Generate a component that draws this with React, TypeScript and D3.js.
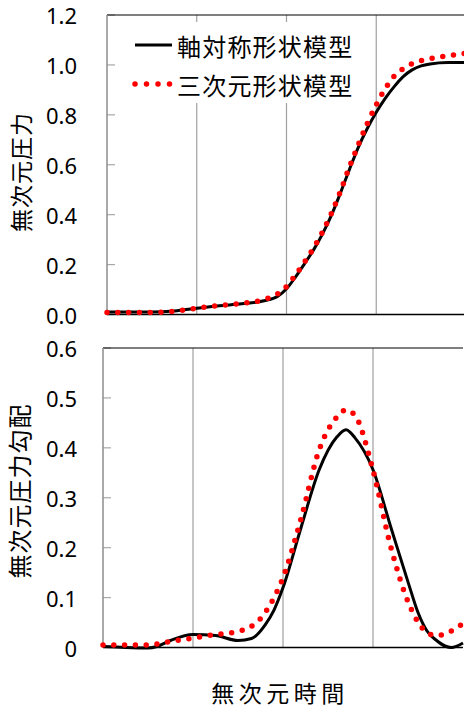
import React from 'react';
import * as d3 from 'd3';

// dimensionless time (gridlines at 1, 2, 3)
const timeTop = [0, 0.25, 0.5, 0.75, 1.0, 1.25, 1.5, 1.75, 1.9, 2.0, 2.1, 2.2, 2.3, 2.4, 2.5, 2.6, 2.7, 2.8, 2.9, 3.0, 3.1, 3.2, 3.3, 3.4, 3.5, 3.6, 3.8, 4.0];
const pressureAxisym = [0.010, 0.010, 0.010, 0.014, 0.025, 0.035, 0.043, 0.055, 0.072, 0.103, 0.150, 0.203, 0.258, 0.322, 0.397, 0.486, 0.580, 0.670, 0.745, 0.810, 0.866, 0.913, 0.953, 0.980, 0.996, 1.004, 1.010, 1.010];
const pressure3d = [0.008, 0.008, 0.008, 0.013, 0.025, 0.036, 0.045, 0.060, 0.082, 0.112, 0.158, 0.210, 0.265, 0.330, 0.405, 0.492, 0.590, 0.680, 0.765, 0.840, 0.905, 0.955, 0.985, 1.005, 1.017, 1.025, 1.037, 1.047];

const timeBottom = [0, 0.25, 0.5, 0.6, 0.75, 1.0, 1.25, 1.5, 1.65, 1.8, 1.9, 2.0, 2.2, 2.4, 2.6, 2.7, 2.8, 3.0, 3.2, 3.4, 3.5, 3.6, 3.7, 3.8, 3.87, 4.0];
const gradientAxisym = [0.002, 0.0, -0.001, 0.002, 0.014, 0.026, 0.024, 0.014, 0.018, 0.045, 0.075, 0.120, 0.240, 0.355, 0.422, 0.436, 0.420, 0.356, 0.240, 0.125, 0.070, 0.033, 0.015, 0.003, 0.0, 0.009];
const timeBottom3d = [0, 0.25, 0.5, 0.75, 1.0, 1.25, 1.5, 1.75, 1.9, 2.0, 2.2, 2.4, 2.6, 2.7, 2.8, 3.0, 3.2, 3.4, 3.6, 3.7, 3.8, 3.9, 4.0];
const gradient3d = [0.005, 0.005, 0.005, 0.012, 0.019, 0.026, 0.032, 0.058, 0.100, 0.140, 0.258, 0.395, 0.462, 0.476, 0.465, 0.355, 0.200, 0.087, 0.030, 0.024, 0.027, 0.036, 0.048];

const ticksTop = [0, 0.2, 0.4, 0.6, 0.8, 1.0, 1.2];
const ticksBottom = [0, 0.1, 0.2, 0.3, 0.4, 0.5, 0.6];
const gridX = [1, 2, 3];

const legendNames = ['軸対称形状模型', '三次元形状模型'];
const labelTop = '無次元圧力';
const labelBottom = '無次元圧力勾配';
const labelX = '無次元時間';

const cjk = '"Noto Sans CJK JP", "Noto Sans", sans-serif';
const num = '"Noto Sans", "Liberation Sans", sans-serif';

type PanelProps = {
  left: number; right: number; top: number; bottom: number;
  yMax: number; ticks: number[]; fmt: (v: number) => string;
  xs1: number[]; ys1: number[]; xs2: number[]; ys2: number[];
  legend?: boolean;
};

const Panel = ({ left, right, top, bottom, yMax, ticks, fmt, xs1, ys1, xs2, ys2, legend }: PanelProps) => {
  const x = d3.scaleLinear().domain([0, 4]).range([left, right]);
  const y = d3.scaleLinear().domain([0, yMax]).range([bottom, top]);
  const line = d3.line<[number, number]>()
    .x(d => x(d[0]))
    .y(d => y(d[1]))
    .curve(d3.curveMonotoneX);
  const solid = line(xs1.map((v, i) => [v, ys1[i]]) as [number, number][]) || '';
  const dotted = line(xs2.map((v, i) => [v, ys2[i]]) as [number, number][]) || '';

  return (
    <g>
      {gridX.map(g => (
        <line key={g} x1={x(g)} x2={x(g)} y1={top} y2={bottom} stroke="#a0a0a0" strokeWidth={1.2} />
      ))}
      {legend && (
        <g>
          <rect x={124} y={22} width={236} height={81} fill="#fff" />
          <line x1={135} x2={172} y1={45} y2={45} stroke="#000" strokeWidth={3} />
          <text x={177} y={45} dominantBaseline="central" fontFamily={cjk} fontSize={24} letterSpacing={1.2}>{legendNames[0]}</text>
          <line x1={135} x2={172} y1={84} y2={84} stroke="#ff0000" strokeWidth={5.5} strokeLinecap="round" strokeDasharray="0 11.5" />
          <text x={177} y={84} dominantBaseline="central" fontFamily={cjk} fontSize={24} letterSpacing={1.2}>{legendNames[1]}</text>
        </g>
      )}
      {ticks.map(t => (
        <g key={t}>
          <line x1={left} x2={left + 8} y1={y(t)} y2={y(t)} stroke="#a8a8a8" strokeWidth={1.2} />
          <text x={77} y={y(t)} textAnchor="end" dominantBaseline="central" fontFamily={num} fontSize={22} fill="#000">{fmt(t)}</text>
        </g>
      ))}
      <line x1={left} x2={right} y1={top} y2={top} stroke="#000" strokeWidth={1.2} />
      <line x1={left} x2={right} y1={bottom} y2={bottom} stroke="#000" strokeWidth={1.5} />
      <line x1={left} x2={left} y1={top} y2={bottom} stroke="#8c8c8c" strokeWidth={1.5} />
      <path d={solid} fill="none" stroke="#000" strokeWidth={3} />
      <path d={dotted} fill="none" stroke="#ff0000" strokeWidth={5.5} strokeLinecap="round" strokeDasharray="0 10.8" />
    </g>
  );
};

const App = () => {
  return (
    <svg width={464} height={709} style={{ position: 'absolute', left: 0, top: 0, background: '#fff' }}>
      <rect width={464} height={709} fill="#fff" />
      <Panel left={107} right={466} top={15} bottom={314.5} yMax={1.2} ticks={ticksTop}
        fmt={d3.format('.1f')} xs1={timeTop} ys1={pressureAxisym} xs2={timeTop} ys2={pressure3d} legend />
      <Panel left={103} right={463} top={348} bottom={647.5} yMax={0.6} ticks={ticksBottom}
        fmt={v => (v === 0 ? '0' : d3.format('.1f')(v))} xs1={timeBottom} ys1={gradientAxisym} xs2={timeBottom3d} ys2={gradient3d} />
      <text transform="translate(20,172) rotate(-90)" textAnchor="middle" dominantBaseline="central"
        fontFamily={cjk} fontSize={23} letterSpacing={1}>{labelTop}</text>
      <text transform="translate(18,491) rotate(-90)" textAnchor="middle" dominantBaseline="central"
        fontFamily={cjk} fontSize={24} letterSpacing={1}>{labelBottom}</text>
      <text x={280} y={692} textAnchor="middle" dominantBaseline="central"
        fontFamily={cjk} fontSize={23} letterSpacing={4.5}>{labelX}</text>
    </svg>
  );
};

export default App;
